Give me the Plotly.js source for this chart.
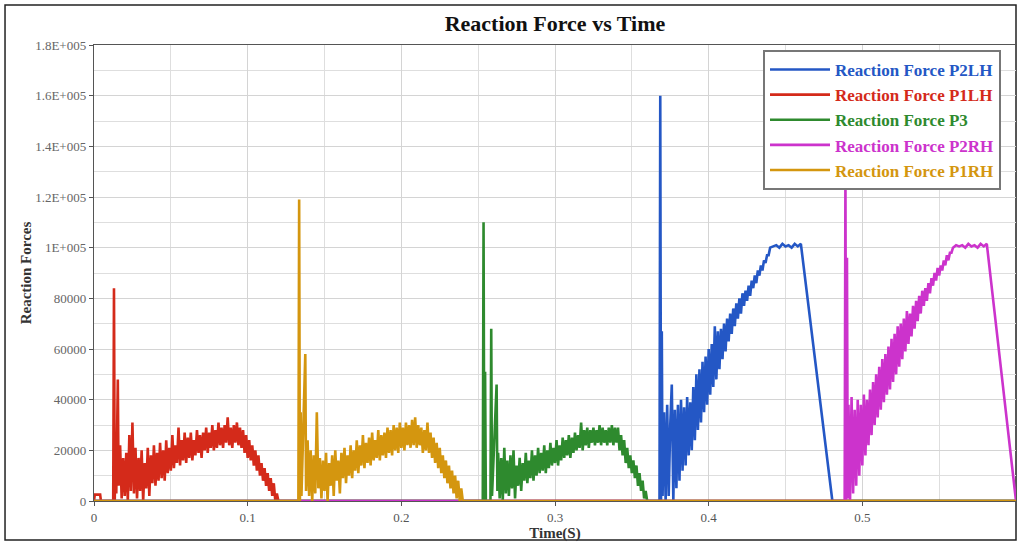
<!DOCTYPE html>
<html>
<head>
<meta charset="utf-8">
<script src="https://cdn.plot.ly/plotly-3.0.1.min.js"></script>
<style>html,body{margin:0;padding:0;background:#fff;}#chart{width:1018px;height:545px;}</style>
</head>
<body>
<div id="chart"></div>
<script>
// ---- Data ----
const seriesNames = ["Reaction Force P2LH", "Reaction Force P1LH", "Reaction Force P3", "Reaction Force P2RH", "Reaction Force P1RH"];
const seriesColors = ["#2457c5", "#d42a1a", "#2e8a2e", "#cc33cc", "#d4960f"];

const tP1LH = [0, 0.0005, 0.004, 0.0045, 0.0125, 0.013, 0.0135, 0.014, 0.0145, 0.0155,
  0.016, 0.017, 0.018, 0.019, 0.020, 0.021, 0.022, 0.023, 0.024, 0.025, 0.026, 0.027, 0.028, 0.029, 0.030,
  0.031, 0.032, 0.033, 0.034, 0.035, 0.036, 0.037, 0.038, 0.039, 0.040, 0.041, 0.042, 0.043, 0.044, 0.045,
  0.046, 0.047, 0.048, 0.049, 0.050, 0.051, 0.052, 0.053, 0.054, 0.055, 0.056, 0.057, 0.058, 0.059, 0.060,
  0.061, 0.062, 0.063, 0.064, 0.065, 0.066, 0.067, 0.068, 0.069, 0.070, 0.071, 0.072, 0.073, 0.074, 0.075,
  0.076, 0.077, 0.078, 0.079, 0.080, 0.081, 0.082, 0.083, 0.084, 0.085, 0.086, 0.087, 0.088, 0.089, 0.090,
  0.091, 0.092, 0.093, 0.094, 0.095, 0.096, 0.097, 0.098, 0.099, 0.100, 0.101, 0.102, 0.103, 0.104, 0.105,
  0.106, 0.107, 0.108, 0.109, 0.110, 0.111, 0.112, 0.113, 0.114, 0.115, 0.116, 0.117, 0.118, 0.119, 0.120, 0.6];
const fP1LH = [0, 2500, 2500, 0, 0, 84000, 0, 25000, 3000, 48000,
  6000, 22000, 1000, 17000, 2000, 19000, 0, 26000, 4000, 31000, 3000, 21000, 1000, 17000, 4000,
  20000, 0, 15000, 5000, 21000, 2000, 18000, 7000, 22000, 6000, 19000, 8000, 23000, 9000, 20000,
  8000, 24000, 11000, 21000, 12000, 26000, 13000, 22000, 15000, 29000, 14000, 24000, 16000, 27000, 15000,
  25000, 17000, 27000, 16000, 24000, 18000, 28000, 19000, 26000, 17000, 27000, 20000, 29000, 19000, 27000,
  21000, 30000, 20000, 28000, 21000, 31000, 22000, 29000, 21000, 30000, 23000, 33000, 22000, 29000, 21000,
  30000, 23000, 31000, 22000, 29000, 21000, 28000, 19000, 26000, 17000, 24000, 16000, 22000, 14000, 20000,
  12000, 18000, 10000, 15000, 8000, 13000, 6000, 11000, 4000, 9000, 2000, 7000, 0, 3000, 0, 0];

const tP1RH = [0, 0.133, 0.1335, 0.134, 0.1345, 0.135, 0.1375, 0.138,
  0.139, 0.140, 0.141, 0.142, 0.143, 0.144, 0.145, 0.146, 0.147, 0.148, 0.149, 0.150,
  0.151, 0.152, 0.153, 0.154, 0.155, 0.156, 0.157, 0.158, 0.159, 0.160,
  0.161, 0.162, 0.163, 0.164, 0.165, 0.166, 0.167, 0.168, 0.169, 0.170,
  0.171, 0.172, 0.173, 0.174, 0.175, 0.176, 0.177, 0.178, 0.179, 0.180,
  0.181, 0.182, 0.183, 0.184, 0.185, 0.186, 0.187, 0.188, 0.189, 0.190,
  0.191, 0.192, 0.193, 0.194, 0.195, 0.196, 0.197, 0.198, 0.199, 0.200,
  0.201, 0.202, 0.203, 0.204, 0.205, 0.206, 0.207, 0.208, 0.209, 0.210,
  0.211, 0.212, 0.213, 0.214, 0.215, 0.216, 0.217, 0.218, 0.219, 0.220,
  0.221, 0.222, 0.223, 0.224, 0.225, 0.226, 0.227, 0.228, 0.229, 0.230,
  0.231, 0.232, 0.233, 0.234, 0.235, 0.236, 0.237, 0.238, 0.239, 0.240, 0.6];
const fP1RH = [0, 0, 119000, 0, 35000, 2000, 58000, 4000,
  24000, 2000, 20000, 0, 18000, 3000, 35000, 5000, 17000, 1000, 16000, 4000,
  19000, 0, 15000, 6000, 18000, 2000, 20000, 8000, 16000, 3000,
  19000, 9000, 21000, 7000, 18000, 10000, 22000, 9000, 20000, 12000,
  24000, 11000, 22000, 14000, 26000, 13000, 23000, 15000, 25000, 14000,
  27000, 16000, 24000, 17000, 28000, 16000, 26000, 18000, 27000, 17000,
  29000, 19000, 28000, 18000, 30000, 20000, 29000, 19000, 31000, 21000,
  29000, 20000, 31000, 22000, 30000, 21000, 32000, 22000, 33000, 21000,
  30000, 22000, 29000, 19000, 28000, 20000, 31000, 19000, 27000, 17000,
  25000, 15000, 23000, 13000, 21000, 11000, 18000, 9000, 16000, 7000,
  14000, 5000, 12000, 3000, 10000, 1000, 8000, 0, 5000, 0, 0];

const tP3 = [0, 0.253, 0.2535, 0.254, 0.2545, 0.255, 0.258, 0.2585, 0.259, 0.262, 0.2625,
  0.263, 0.264, 0.265, 0.266, 0.267, 0.268, 0.269, 0.270,
  0.271, 0.272, 0.273, 0.274, 0.275, 0.276, 0.277, 0.278, 0.279, 0.280,
  0.281, 0.282, 0.283, 0.284, 0.285, 0.286, 0.287, 0.288, 0.289, 0.290,
  0.291, 0.292, 0.293, 0.294, 0.295, 0.296, 0.297, 0.298, 0.299, 0.300,
  0.301, 0.302, 0.303, 0.304, 0.305, 0.306, 0.307, 0.308, 0.309, 0.310,
  0.311, 0.312, 0.313, 0.314, 0.315, 0.316, 0.317, 0.318, 0.319, 0.320,
  0.321, 0.322, 0.323, 0.324, 0.325, 0.326, 0.327, 0.328, 0.329, 0.330,
  0.331, 0.332, 0.333, 0.334, 0.335, 0.336, 0.337, 0.338, 0.339, 0.340,
  0.341, 0.342, 0.343, 0.344, 0.345, 0.346, 0.347, 0.348, 0.349, 0.350,
  0.351, 0.352, 0.353, 0.354, 0.355, 0.356, 0.357, 0.358, 0.359, 0.360, 0.6];
const fP3 = [0, 0, 110000, 0, 51000, 0, 0, 68000, 2000, 46000, 4000,
  19000, 1000, 17000, 0, 21000, 3000, 16000, 2000,
  18000, 5000, 20000, 1000, 14000, 6000, 17000, 4000, 15000, 8000,
  19000, 7000, 16000, 9000, 20000, 8000, 18000, 10000, 21000, 11000,
  19000, 12000, 22000, 11000, 20000, 13000, 23000, 14000, 21000, 15000,
  24000, 14000, 22000, 16000, 25000, 17000, 24000, 18000, 26000, 17000,
  25000, 19000, 27000, 20000, 26000, 21000, 31000, 20000, 28000, 22000,
  29000, 21000, 28000, 23000, 29000, 22000, 28000, 23000, 30000, 22000,
  29000, 23000, 28000, 22000, 29000, 23000, 30000, 22000, 29000, 23000,
  29000, 20000, 26000, 18000, 24000, 15000, 21000, 13000, 18000, 11000,
  16000, 9000, 14000, 6000, 11000, 4000, 8000, 1000, 4000, 0, 0];

const tP2LH = [0, 0.368, 0.3685, 0.369, 0.3695, 0.370,
  0.371, 0.372, 0.373, 0.374, 0.375, 0.376, 0.377, 0.378, 0.379, 0.380,
  0.381, 0.382, 0.383, 0.384, 0.385, 0.386, 0.387, 0.388, 0.389, 0.390,
  0.391, 0.392, 0.393, 0.394, 0.395, 0.396, 0.397, 0.398, 0.399, 0.400,
  0.401, 0.402, 0.403, 0.404, 0.405, 0.406, 0.407, 0.408, 0.409, 0.410,
  0.411, 0.412, 0.413, 0.414, 0.415, 0.416, 0.417, 0.418, 0.419, 0.420,
  0.421, 0.422, 0.423, 0.424, 0.425, 0.426, 0.427, 0.428, 0.429, 0.430,
  0.431, 0.432, 0.433, 0.434, 0.435, 0.436, 0.437, 0.438, 0.439, 0.440,
  0.442, 0.444, 0.446, 0.448, 0.450, 0.452, 0.454, 0.456, 0.458, 0.460, 0.4805, 0.6];
const fP2LH = [0, 0, 160000, 0, 67000, 2000,
  35000, 0, 38000, 2000, 30000, 46000, 0, 36000, 5000, 38000,
  8000, 40000, 12000, 37000, 14000, 41000, 18000, 39000, 20000, 45000,
  24000, 50000, 28000, 52000, 31000, 55000, 35000, 57000, 38000, 60000,
  42000, 62000, 45000, 69000, 48000, 67000, 52000, 68000, 56000, 70000,
  59000, 72000, 63000, 74000, 66000, 76000, 69000, 78000, 72000, 80000,
  74000, 82000, 77000, 83000, 79000, 85000, 81000, 87000, 84000, 89000,
  86000, 91000, 89000, 93000, 91000, 95000, 94000, 97000, 97000, 100000,
  100500, 101000, 100000, 101500, 100500, 101000, 100000, 101500, 100500, 101500, 0, 0];

const tP2RH = [0, 0.4885, 0.489, 0.4895, 0.490, 0.4905,
  0.491, 0.492, 0.493, 0.494, 0.495, 0.496, 0.497, 0.498, 0.499, 0.500,
  0.501, 0.502, 0.503, 0.504, 0.505, 0.506, 0.507, 0.508, 0.509, 0.510,
  0.511, 0.512, 0.513, 0.514, 0.515, 0.516, 0.517, 0.518, 0.519, 0.520,
  0.521, 0.522, 0.523, 0.524, 0.525, 0.526, 0.527, 0.528, 0.529, 0.530,
  0.531, 0.532, 0.533, 0.534, 0.535, 0.536, 0.537, 0.538, 0.539, 0.540,
  0.541, 0.542, 0.543, 0.544, 0.545, 0.546, 0.547, 0.548, 0.549, 0.550,
  0.551, 0.552, 0.553, 0.554, 0.555, 0.556, 0.557, 0.558, 0.559,
  0.561, 0.563, 0.565, 0.567, 0.569, 0.571, 0.573, 0.575, 0.577, 0.579, 0.581, 0.6];
const fP2RH = [0, 0, 130000, 0, 96000, 1000,
  38000, 0, 41000, 3000, 36000, 6000, 40000, 10000, 38000, 14000,
  42000, 18000, 40000, 22000, 44000, 26000, 47000, 30000, 50000, 33000,
  53000, 36000, 56000, 39000, 58000, 42000, 61000, 44000, 64000, 47000,
  66000, 50000, 69000, 53000, 70000, 56000, 72000, 59000, 75000, 62000,
  74000, 65000, 77000, 68000, 79000, 71000, 81000, 74000, 83000, 77000,
  84000, 79000, 86000, 82000, 88000, 85000, 90000, 87000, 92000, 89000,
  93000, 91000, 95000, 93000, 97000, 95000, 98000, 98000, 100000,
  101000, 100500, 101000, 100000, 101500, 100500, 101000, 100000, 101500, 100500, 101500, 0];

const yTickVals = [0, 20000, 40000, 60000, 80000, 100000, 120000, 140000, 160000, 180000];
const yTickText = ["0", "20000", "40000", "60000", "80000", "1E+005", "1.2E+005", "1.4E+005", "1.6E+005", "1.8E+005"];
const xTickVals = [0, 0.1, 0.2, 0.3, 0.4, 0.5, 0.6];
const xTickText = ["0", "0.1", "0.2", "0.3", "0.4", "0.5", "0.6"];

// ---- Build traces ----
const seriesT = [tP2LH, tP1LH, tP3, tP2RH, tP1RH];
const seriesF = [fP2LH, fP1LH, fP3, fP2RH, fP1RH];
const traces = seriesNames.map((n, i) => ({
  type: 'scatter', mode: 'lines',
  x: seriesT[i], y: seriesF[i],
  name: '<span style="color:' + seriesColors[i] + '">' + n + '</span>',
  line: {color: seriesColors[i], width: 2.6, shape: 'linear'}
}));

const serif = '"Liberation Serif", "Times New Roman", serif';
const layout = {
  width: 1018, height: 545,
  margin: {l: 94, r: 2, t: 45, b: 44},
  paper_bgcolor: '#ffffff', plot_bgcolor: '#ffffff',
  font: {family: serif, size: 12, color: '#444'},
  title: {text: '<b>Reaction Force vs Time</b>', xref: 'paper', x: 0.5, xanchor: 'center', y: 0.958, yanchor: 'middle',
          font: {family: serif, size: 22, color: '#111'}},
  xaxis: {range: [0, 0.6], tickvals: xTickVals, ticktext: xTickText,
          showgrid: true, gridcolor: '#d4d4d4', gridwidth: 1,
          minor: {dtick: 0.05, showgrid: true, gridcolor: '#dedede', ticks: ''},
          ticks: 'outside', ticklen: 4, tickcolor: '#555',
          showline: true, linecolor: '#555', linewidth: 1.2, mirror: true, zeroline: false,
          tickfont: {family: serif, size: 13, color: '#555'},
          title: {text: '<b>Time(S)</b>', standoff: 0, font: {family: serif, size: 15, color: '#333'}}},
  yaxis: {range: [0, 180000], tickvals: yTickVals, ticktext: yTickText,
          showgrid: true, gridcolor: '#d4d4d4', gridwidth: 1,
          minor: {dtick: 10000, showgrid: true, gridcolor: '#dedede', ticks: ''},
          ticks: 'outside', ticklen: 4, tickcolor: '#555',
          showline: true, linecolor: '#555', linewidth: 1.2, mirror: true, zeroline: false,
          tickfont: {family: serif, size: 13, color: '#666'},
          title: {text: '<b>Reaction Forces</b>', standoff: 0, font: {family: serif, size: 15, color: '#333'}}},
  showlegend: true,
  legend: {x: 0.7256, y: 0.989, xanchor: 'left', yanchor: 'top',
           bgcolor: '#ffffff', bordercolor: '#777', borderwidth: 2,
           font: {family: serif, size: 17, weight: 'bold'}, itemwidth: 60, tracegroupgap: 0},
  shapes: [{type: 'rect', xref: 'paper', yref: 'paper', x0: -0.0965, x1: 1.0, y0: -0.0855, y1: 1.0877,
            line: {color: '#222', width: 1.5}, fillcolor: 'rgba(0,0,0,0)', layer: 'below'}]
};

Plotly.newPlot('chart', traces, layout, {staticPlot: true, displayModeBar: false});
</script>
</body>
</html>
